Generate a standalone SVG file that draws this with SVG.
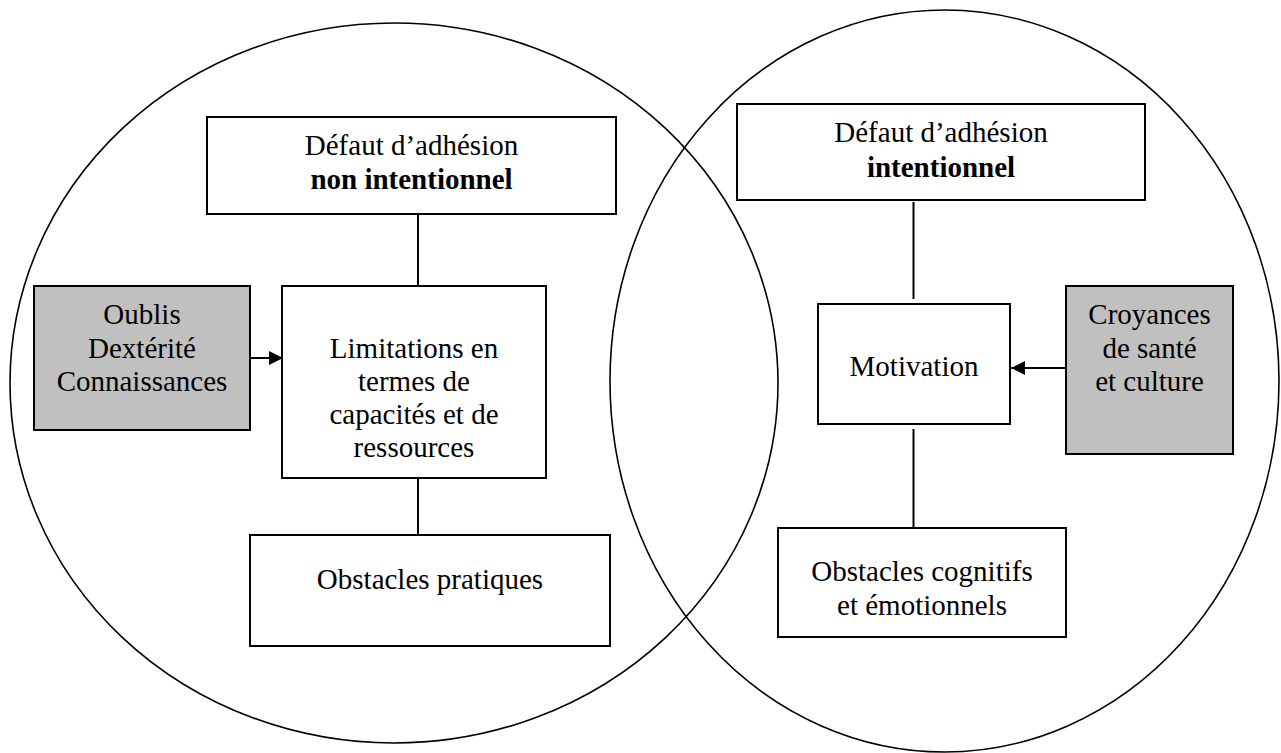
<svg xmlns="http://www.w3.org/2000/svg" width="1281" height="753" viewBox="0 0 1281 753">
<defs>
<style>
.circle{fill:none;stroke:#000;stroke-width:1.6}
.box{fill:#fff;stroke:#000;stroke-width:2}
.gray{fill:#c0c0c0;stroke:#000;stroke-width:2}
.t{font-family:"Liberation Serif","Times New Roman",serif;font-size:29px;fill:#000;text-anchor:middle}
.b{font-weight:bold}
.link{stroke:#000;stroke-width:2;fill:none}
</style>
<marker id="arr" markerUnits="userSpaceOnUse" markerWidth="14" markerHeight="14" refX="14" refY="7" orient="auto">
<path d="M0,0 L14,7 L0,14 Z" fill="#000"/>
</marker>
</defs>
<rect width="1281" height="753" fill="#fff"/>
<g id="circles">
<ellipse class="circle" cx="394" cy="383" rx="384" ry="360"/>
<ellipse class="circle" cx="944.5" cy="381" rx="334.5" ry="371"/>
</g>
<g id="connectors">
<line class="link" x1="418" y1="214" x2="418" y2="286"/>
<line class="link" x1="418" y1="478" x2="418" y2="535"/>
<line class="link" x1="913.5" y1="202" x2="913.5" y2="299"/>
<line class="link" x1="913.5" y1="429" x2="913.5" y2="527"/>
<line class="link" x1="237" y1="358" x2="283" y2="358" marker-end="url(#arr)"/>
<line class="link" x1="1083" y1="368" x2="1011" y2="368" marker-end="url(#arr)"/>
</g>
<g id="node-nonintent">
<rect class="box" x="207" y="117" width="409" height="97"/>
<text class="t" x="411.5" y="155">Défaut d’adhésion</text>
<text class="t b" x="411.5" y="189">non intentionnel</text>
</g>
<g id="node-oublis">
<rect class="gray" x="34" y="286" width="216" height="144"/>
<text class="t" x="142" y="324">Oublis</text>
<text class="t" x="142" y="358">Dextérité</text>
<text class="t" x="142" y="391">Connaissances</text>
</g>
<g id="node-limitations">
<rect class="box" x="282" y="286" width="264" height="192"/>
<text class="t" x="414" y="358">Limitations en</text>
<text class="t" x="414" y="391">termes de</text>
<text class="t" x="414" y="424">capacités et de</text>
<text class="t" x="414" y="457">ressources</text>
</g>
<g id="node-pratiques">
<rect class="box" x="250" y="535" width="360" height="111"/>
<text class="t" x="430" y="589">Obstacles pratiques</text>
</g>
<g id="node-intent">
<rect class="box" x="737" y="104" width="408" height="96"/>
<text class="t" x="941" y="142">Défaut d’adhésion</text>
<text class="t b" x="941" y="177">intentionnel</text>
</g>
<g id="node-motivation">
<rect class="box" x="818" y="304" width="192" height="120"/>
<text class="t" x="914" y="376">Motivation</text>
</g>
<g id="node-croyances">
<rect class="gray" x="1066" y="286" width="167" height="168"/>
<text class="t" x="1149.5" y="324">Croyances</text>
<text class="t" x="1149.5" y="358">de santé</text>
<text class="t" x="1149.5" y="391">et culture</text>
</g>
<g id="node-cognitifs">
<rect class="box" x="778" y="528" width="288" height="109"/>
<text class="t" x="922" y="581">Obstacles cognitifs</text>
<text class="t" x="922" y="615">et émotionnels</text>
</g>
</svg>
